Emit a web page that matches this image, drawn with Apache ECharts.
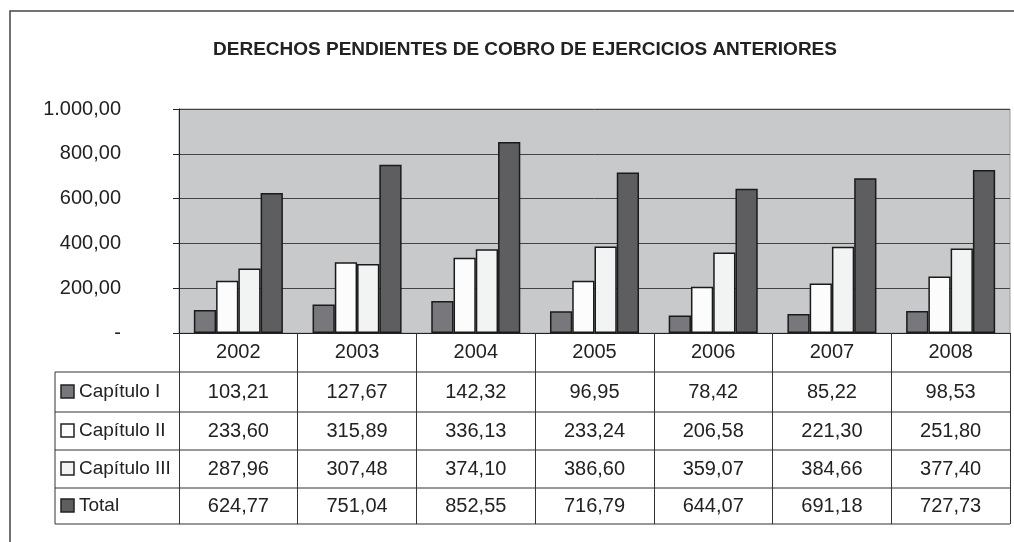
<!DOCTYPE html>
<html>
<head>
	<meta charset="utf-8">
	<title>Derechos pendientes de cobro</title>
	<style type="text/css">
		body{
			margin: 0px;
			background: #fff;
		}
		.chart{
			width: 1014px;
			height: 542px;
		}
	</style>
	<script type="text/javascript" src="https://cdn.jsdelivr.net/npm/echarts@6/dist/echarts.min.js"></script>
</head>
<body>
	<div id="chart" class="chart"></div>
	<script type="text/javascript">
		var years = ['2002', '2003', '2004', '2005', '2006', '2007', '2008'];
		var seriesNames = ['Capítulo I', 'Capítulo II', 'Capítulo III', 'Total'];
		var capitulo1 = [103.21, 127.67, 142.32, 96.95, 78.42, 85.22, 98.53];
		var capitulo2 = [233.60, 315.89, 336.13, 233.24, 206.58, 221.30, 251.80];
		var capitulo3 = [287.96, 307.48, 374.10, 386.60, 359.07, 384.66, 377.40];
		var total = [624.77, 751.04, 852.55, 716.79, 644.07, 691.18, 727.73];
		var yTicks = [0, 200, 400, 600, 800, 1000];

		var values = [capitulo1, capitulo2, capitulo3, total];
		var colors = ['#78787c', '#fcfcfc', '#f2f3f3', '#5e5e60'];

		// layout of the plot and the table under it
		var plotLeft = 179, plotTop = 109, plotRight = 1010, plotBottom = 333;
		var tableLeft = 55;
		var rowLines = [372, 412, 450, 488, 524];
		var headerCenter = 352;
		var fontSize = 20;

		function fmt(v){
			var parts = v.toFixed(2).split('.');
			var intPart = parts[0].replace(/\B(?=(\d{3})+(?!\d))/g, '.');
			return intPart + ',' + parts[1];
		}

		window.onload = function(){
			var chart = echarts.init(document.getElementById('chart'));

			var textStyle = {color: '#222', fontSize: fontSize, fontFamily: 'Liberation Sans, Arial, sans-serif'};
			var labelMargin = headerCenter - plotBottom - fontSize / 2;

			var xAxes = [{
				type: 'category',
				data: years,
				position: 'bottom',
				axisLine: {show: true, lineStyle: {color: '#222', width: 1}},
				axisTick: {show: true, length: rowLines[rowLines.length - 1] - plotBottom, interval: 0, lineStyle: {color: '#333', width: 1}},
				axisLabel: {margin: labelMargin, lineHeight: fontSize, color: textStyle.color, fontSize: fontSize, fontFamily: textStyle.fontFamily}
			}];
			// one hidden axis per table row, used to print the values under each year
			values.forEach(function(arr, r){
				var center = (rowLines[r] + rowLines[r + 1]) / 2;
				xAxes.push({
					type: 'category',
					data: years,
					position: 'bottom',
					offset: center - headerCenter,
					axisLine: {show: false},
					axisTick: {show: false},
					axisLabel: {
						margin: labelMargin,
						lineHeight: fontSize,
						color: textStyle.color,
						fontSize: fontSize,
						fontFamily: textStyle.fontFamily,
						formatter: function(v, i){ return fmt(arr[i]); }
					}
				});
			});

			var graphics = [{
				type: 'rect',
				shape: {x: 10, y: 11, width: 1100, height: 600},
				style: {fill: null, stroke: '#444', lineWidth: 1.5},
				silent: true
			}];
			rowLines.forEach(function(y){
				graphics.push({
					type: 'line',
					shape: {x1: tableLeft, y1: y, x2: plotRight, y2: y},
					style: {stroke: '#333', lineWidth: 1}
				});
			});
			graphics.push({
				type: 'line',
				shape: {x1: tableLeft, y1: rowLines[0], x2: tableLeft, y2: rowLines[rowLines.length - 1]},
				style: {stroke: '#333', lineWidth: 1}
			});
			seriesNames.forEach(function(name, r){
				var center = (rowLines[r] + rowLines[r + 1]) / 2;
				graphics.push({
					type: 'rect',
					shape: {x: 61, y: center - 7, width: 13, height: 13},
					style: {fill: colors[r], stroke: '#222', lineWidth: 1.5}
				});
				graphics.push({
					type: 'text',
					x: 79, y: center,
					style: {text: name, fill: '#222', font: '19px "Liberation Sans", Arial, sans-serif', verticalAlign: 'middle'}
				});
			});

			chart.setOption({
				animation: false,
				backgroundColor: '#fff',
				title: {
					text: 'DERECHOS PENDIENTES DE COBRO DE EJERCICIOS ANTERIORES',
					left: 520,
					textAlign: 'center',
					top: 35,
					textStyle: {color: '#222', fontSize: 19, fontWeight: 'bold', fontFamily: 'Liberation Sans, Arial, sans-serif'}
				},
				grid: {
					left: plotLeft,
					top: plotTop,
					right: 1014 - plotRight,
					bottom: 542 - plotBottom,
					show: true,
					backgroundColor: '#c8c9cb',
					borderColor: '#9c9c9c',
					borderWidth: 1,
					containLabel: false
				},
				xAxis: xAxes,
				yAxis: {
					type: 'value',
					min: yTicks[0],
					max: yTicks[yTicks.length - 1],
					interval: yTicks[1] - yTicks[0],
					axisLine: {show: true, lineStyle: {color: '#222', width: 1}},
					axisTick: {show: true, length: 6, lineStyle: {color: '#222'}},
					splitLine: {show: true, lineStyle: {color: '#444', width: 1}},
					axisLabel: {
						margin: 58,
						color: textStyle.color,
						fontSize: fontSize,
						fontFamily: textStyle.fontFamily,
						formatter: function(v){ return v === 0 ? '-' : fmt(v); }
					}
				},
				series: values.map(function(arr, r){
					return {
						name: seriesNames[r],
						type: 'bar',
						xAxisIndex: 0,
						data: arr,
						barGap: '0%',
						barCategoryGap: '25%',
						itemStyle: {color: colors[r], borderColor: '#1a1a1a', borderWidth: 1.5}
					};
				}),
				graphic: graphics
			});
		}
	</script>
</body>
</html>
